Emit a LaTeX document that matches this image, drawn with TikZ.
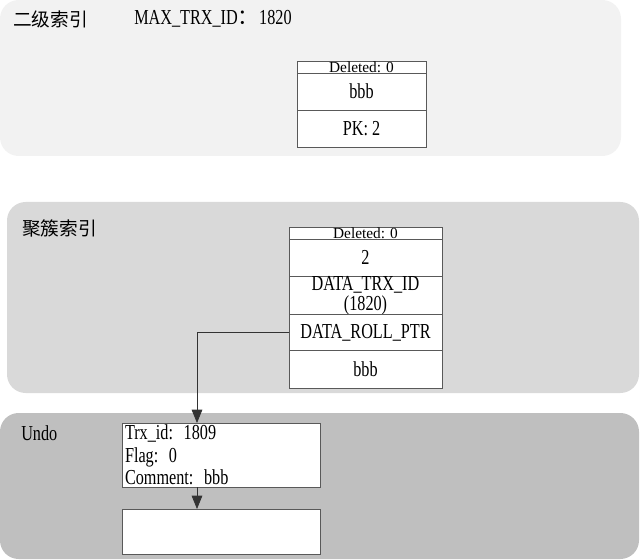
\documentclass[tikz,border=0pt]{standalone}
\usepackage{fontspec}
\setmainfont[FakeStretch=0.76]{Liberation Serif}
\newfontfamily\plainserif{Liberation Serif}
\newfontfamily\cjk{Noto Sans CJK SC}
\usepackage{tikz}
\usetikzlibrary{positioning,arrows.meta}

\newcommand{\rowfont}{\fontsize{16}{15}\selectfont}
\newcommand{\hdrfont}{\plainserif\fontsize{11.5}{11.5}\selectfont}

\begin{document}
\begin{tikzpicture}[
  x=0.75pt, y=-0.75pt,
  panel/.style={rounded corners=14pt},
  lbl/.style={anchor=west, inner sep=0pt, font=\rowfont},
  cell/.style={draw=black!65, fill=white, line width=0.6pt, inner sep=0pt, outer sep=0pt, font=\rowfont, align=center},
  hdr/.style={cell, minimum height=9pt, font=\hdrfont},
  ptr/.style={draw=black!80, line width=0.6pt, -{Triangle[width=8pt,length=10pt]}}
]
\useasboundingbox (0,0) rectangle (640,560);
% the three bands
\fill[panel, fill=black!5]  (0,0)   rectangle (621,156);
\fill[panel, fill=black!15] (7,202) rectangle (639,393);
\fill[panel, fill=black!25] (0,413) rectangle (639,559);
% band titles
\node[lbl] (secidx) at (13,19) {\cjk\fontsize{14}{14}\selectfont 二级索引};
\node[lbl] (maxtrx) at (134,19) {MAX\_TRX\_ID{\cjk ：}1820};
\node[lbl] (clidx) at (22,228) {\cjk\fontsize{14}{14}\selectfont 聚簇索引};
\node[lbl] (undolbl) at (21,433) {Undo};
% secondary index record
\node[hdr, minimum width=96.75pt, anchor=north west] (sdel) at (297,61) {Deleted: 0};
\node[cell, minimum width=96.75pt, minimum height=27.75pt, below=0pt of sdel] (sval) {bbb};
\node[cell, minimum width=96.75pt, minimum height=27.75pt, below=0pt of sval] (spk) {PK: 2};
% clustered index record
\node[hdr, minimum width=114.75pt, anchor=north west] (cdel) at (289,227) {Deleted: 0};
\node[cell, minimum width=114.75pt, minimum height=27.75pt, below=0pt of cdel] (cpk) {2};
\node[cell, minimum width=114.75pt, minimum height=27.75pt, below=0pt of cpk] (ctrx) {DATA\_TRX\_ID\\(1820)};
\node[cell, minimum width=114.75pt, minimum height=27pt, below=0pt of ctrx] (croll) {DATA\_ROLL\_PTR};
\node[cell, minimum width=114.75pt, minimum height=28.5pt, below=0pt of croll] (cval) {bbb};
% undo records
\node[cell, anchor=north west, minimum width=148.5pt, minimum height=48pt, text width=144pt,
  inner xsep=2.25pt, align=left, font=\fontsize{16}{17}\selectfont] (undoa) at (122,423)
  {Trx\_id: 1809\\Flag: 0\\Comment: bbb};
\node[cell, anchor=north west, minimum width=148.5pt, minimum height=33.75pt] (undob) at (122,509) {};
% roll pointer chain
\coordinate (bend) at (197,331);
\draw[ptr] (croll.west) -| (bend |- undoa.north);
\draw[ptr] (bend |- undoa.south) -- (bend |- undob.north);
\end{tikzpicture}
\end{document}
